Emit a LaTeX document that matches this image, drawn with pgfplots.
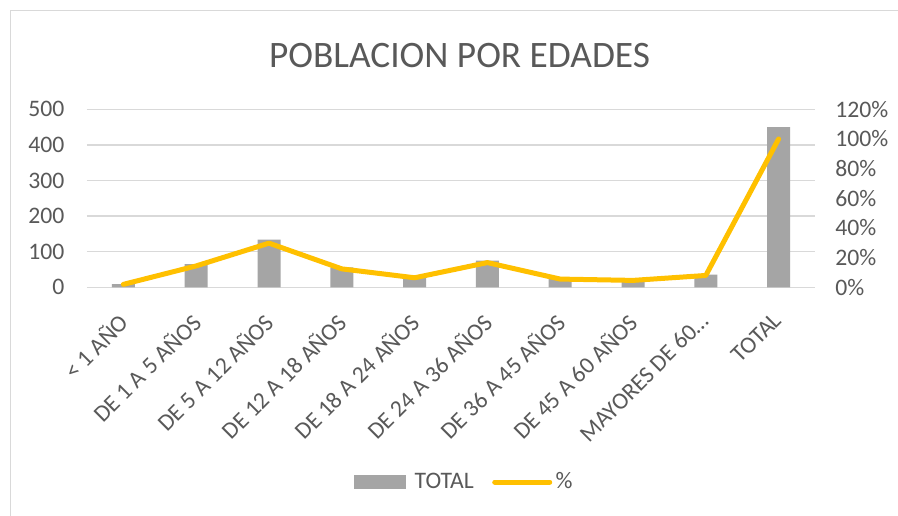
\documentclass[border=0pt]{standalone}
\usepackage{pgfplots}
\pgfplotsset{compat=1.18}
\usepackage{fontspec}
\setmainfont{Carlito}
\definecolor{bargray}{HTML}{A5A5A5}
\definecolor{lineyel}{HTML}{FFC000}
\definecolor{txtgray}{HTML}{595959}
\definecolor{gridgray}{HTML}{D9D9D9}
\begin{document}
\begin{tikzpicture}
\useasboundingbox (0,0) rectangle (538.8pt,309.6pt);
\fill[white] (0,0) rectangle (538.8pt,309.6pt);
\draw[gridgray, line width=0.7pt] (6.3pt,0) -- (6.3pt,303.3pt) -- (538.8pt,303.3pt);
\node[anchor=base, text=txtgray, inner sep=0pt, font=\fontsize{22.4}{27}\selectfont] at (275.7pt,269.2pt) {POBLACION POR EDADES};
\begin{axis}[
  at={(52.2pt,137.2pt)}, anchor=south west,
  scale only axis, width=436.8pt, height=106.8pt,
  xmin=-0.5, xmax=9.5, ymin=0, ymax=500,
  xtick={0,...,9},
  xticklabels={{< 1 AÑO},{DE 1 A 5 AÑOS},{DE 5 A 12 AÑOS},{DE 12 A 18 AÑOS},{DE 18 A 24 AÑOS},{DE 24 A 36 AÑOS},{DE 36 A 45 AÑOS},{DE 45 A 60 AÑOS},{MAYORES DE 60…},{TOTAL}},
  ytick={0,100,...,500},
  ymajorgrids, grid style={gridgray, line width=0.8pt},
  axis line style={draw=none}, major tick length=0pt,
  tick label style={font=\fontsize{14.2}{17}\selectfont, text=txtgray},
  /pgf/number format/assume math mode=true,
  yticklabel style={xshift=-10pt},
  xticklabel style={xshift=-4pt, yshift=-14pt, rotate=45, anchor=north east, inner sep=0pt},
]
\addplot[ybar, bar width=13.8pt, fill=bargray, draw=none] coordinates {
 (0,9) (1,65) (2,134) (3,56) (4,29) (5,75) (6,25) (7,21) (8,36) (9,450)};
\end{axis}
\begin{axis}[
  at={(52.2pt,137.2pt)}, anchor=south west,
  scale only axis, width=436.8pt, height=106.8pt,
  xmin=-0.5, xmax=9.5, ymin=0, ymax=120,
  axis x line=none, axis y line*=right,
  axis line style={draw=none}, major tick length=0pt,
  ytick={0,20,...,120},
  yticklabel={\pgfmathprintnumber{\tick}\%},
  tick label style={font=\fontsize{14.2}{17}\selectfont, text=txtgray},
  /pgf/number format/assume math mode=true,
  yticklabel style={xshift=8.7pt, anchor=west},
  legend columns=2,
  legend style={at={(0.519,-1.094)}, anchor=center, draw=none, fill=none,
    font=\fontsize{14.2}{17}\selectfont, text=txtgray,
    /tikz/every even column/.append style={column sep=9pt}},
]
\addlegendimage{legend image code/.code={\fill[bargray, draw=none] (0pt,-4.2pt) rectangle (31.2pt,4.2pt); \path[draw=none, fill=none] (0pt,0pt) rectangle (34.5pt,0.1pt);}}
\addlegendentry{TOTAL}
\addplot[lineyel, line width=3pt, line join=round, line cap=round,
  legend image code/.code={\draw[lineyel, line width=3pt, line cap=round] (0pt,0pt) -- (33pt,0pt);}] coordinates {
 (0,2.0) (1,14.44) (2,29.78) (3,12.44) (4,6.44) (5,16.67) (6,5.56) (7,4.67) (8,8.0) (9,100)};
\addlegendentry{\%}
\end{axis}
\end{tikzpicture}
\end{document}
